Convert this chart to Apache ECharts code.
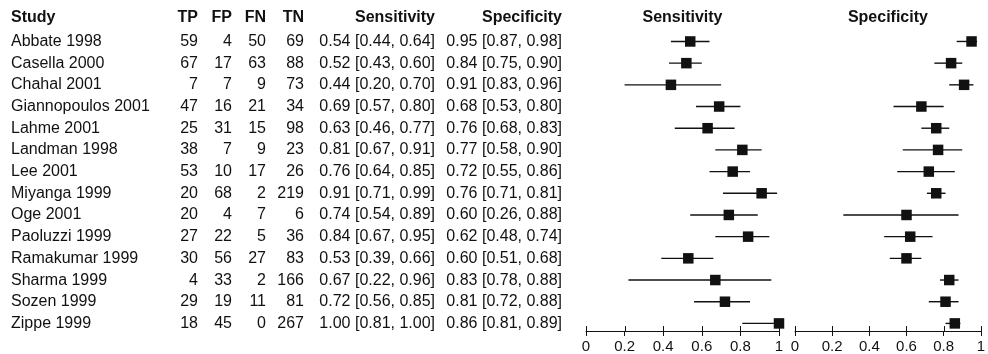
<!DOCTYPE html>
<html>
<head>
<meta charset="utf-8">
<script src="https://cdn.jsdelivr.net/npm/echarts@6/dist/echarts.min.js"></script>
<style>
  html, body { margin: 0; padding: 0; background: #fff; }
  #main { width: 988px; height: 354px; }
</style>
</head>
<body>
<div id="main"></div>
<script>
// study data
var studies = ['Abbate 1998', 'Casella 2000', 'Chahal 2001', 'Giannopoulos 2001', 'Lahme 2001',
    'Landman 1998', 'Lee 2001', 'Miyanga 1999', 'Oge 2001', 'Paoluzzi 1999',
    'Ramakumar 1999', 'Sharma 1999', 'Sozen 1999', 'Zippe 1999'];
var tp = [59, 67, 7, 47, 25, 38, 53, 20, 20, 27, 30, 4, 29, 18];
var fp = [4, 17, 7, 16, 31, 7, 10, 68, 4, 22, 56, 33, 19, 45];
var fn = [50, 63, 9, 21, 15, 9, 17, 2, 7, 5, 27, 2, 11, 0];
var tn = [69, 88, 73, 34, 98, 23, 26, 219, 6, 36, 83, 166, 81, 267];
var sens   = [0.54, 0.52, 0.44, 0.69, 0.63, 0.81, 0.76, 0.91, 0.74, 0.84, 0.53, 0.67, 0.72, 1.00];
var sensLo = [0.44, 0.43, 0.20, 0.57, 0.46, 0.67, 0.64, 0.71, 0.54, 0.67, 0.39, 0.22, 0.56, 0.81];
var sensHi = [0.64, 0.60, 0.70, 0.80, 0.77, 0.91, 0.85, 0.99, 0.89, 0.95, 0.66, 0.96, 0.85, 1.00];
var spec   = [0.95, 0.84, 0.91, 0.68, 0.76, 0.77, 0.72, 0.76, 0.60, 0.62, 0.60, 0.83, 0.81, 0.86];
var specLo = [0.87, 0.75, 0.83, 0.53, 0.68, 0.58, 0.55, 0.71, 0.26, 0.48, 0.51, 0.78, 0.72, 0.81];
var specHi = [0.98, 0.90, 0.96, 0.80, 0.83, 0.90, 0.86, 0.81, 0.88, 0.74, 0.68, 0.88, 0.88, 0.89];
var tickLabels = ['0', '0.2', '0.4', '0.6', '0.8', '1'];

var FONT = '"Liberation Sans", Arial, sans-serif';
var HEAD_ROW = -1.1;
var AXIS_ROW = 13.35;

function ci(v, lo, hi) {
    return v.toFixed(2) + ' [' + lo.toFixed(2) + ', ' + hi.toFixed(2) + ']';
}

// table columns: [x anchor, align, header, values]
var columns = [
    [11, 'left', 'Study', studies],
    [198, 'right', 'TP', tp],
    [232, 'right', 'FP', fp],
    [266, 'right', 'FN', fn],
    [304, 'right', 'TN', tn],
    [435, 'right', 'Sensitivity', sens.map(function (v, i) { return ci(v, sensLo[i], sensHi[i]); })],
    [562, 'right', 'Specificity', spec.map(function (v, i) { return ci(v, specLo[i], specHi[i]); })]
];

var tableData = [];
columns.forEach(function (c) {
    tableData.push([c[0], HEAD_ROW, c[2], c[1], 1]);
    c[3].forEach(function (v, i) {
        tableData.push([c[0], i, String(v), c[1], 0]);
    });
});

function forestData(v, lo, hi) {
    return v.map(function (x, i) { return [x, lo[i], hi[i], i]; });
}

function renderText(params, api) {
    var p = api.coord([api.value(0), api.value(1)]);
    var d = tableData[params.dataIndex];
    return {
        type: 'text',
        x: p[0], y: p[1],
        style: {
            text: d[2],
            textAlign: d[3],
            textVerticalAlign: 'middle',
            font: (d[4] ? 'bold ' : '') + '16px ' + FONT,
            fill: '#111'
        }
    };
}

function renderForest(params, api) {
    var c = api.coord([api.value(0), api.value(3)]);
    var a = api.coord([api.value(1), api.value(3)]);
    var b = api.coord([api.value(2), api.value(3)]);
    var s = 10.5;
    return {
        type: 'group',
        children: [
            { type: 'line', shape: { x1: a[0], y1: a[1], x2: b[0], y2: b[1] },
              style: { stroke: '#111', lineWidth: 1.4 } },
            { type: 'rect', shape: { x: c[0] - s / 2, y: c[1] - s / 2, width: s, height: s },
              style: { fill: '#111' } }
        ]
    };
}

// upper half of the ticks (the axis draws the lower half)
function renderUpTick(params, api) {
    var p = api.coord([api.value(0), AXIS_ROW]);
    var x = Math.round(p[0]) + 0.5;
    return {
        type: 'line', shape: { x1: x, y1: p[1], x2: x, y2: p[1] - 5 },
        style: { stroke: '#111', lineWidth: 1 }
    };
}

function plotTitle(text) {
    return function (params, api) {
        var p = api.coord([0.5, HEAD_ROW]);
        return {
            type: 'text', x: p[0], y: p[1],
            style: { text: text, textAlign: 'center', textVerticalAlign: 'middle',
                     font: 'bold 16px ' + FONT, fill: '#111' }
        };
    };
}

var gridTop = 17.6, gridBottom = 22.9;
var yBase = { type: 'value', min: HEAD_ROW, max: AXIS_ROW, inverse: true, show: false };

function xPlot(gridIndex) {
    return {
        type: 'value', gridIndex: gridIndex, min: 0, max: 1, interval: 0.2,
        position: 'bottom',
        splitLine: { show: false },
        axisLine: { show: true, onZero: false, lineStyle: { color: '#111', width: 1 } },
        axisTick: { show: true, length: 5, lineStyle: { color: '#111', width: 1 } },
        axisLabel: {
            show: true, margin: 8, fontSize: 15, fontFamily: FONT, color: '#111',
            formatter: function (v) { return tickLabels[Math.round(v / 0.2)]; }
        }
    };
}

var tickData = tickLabels.map(function (t) { return [parseFloat(t), AXIS_ROW]; });

var chart = echarts.init(document.getElementById('main'));
chart.setOption({
    animation: false,
    grid: [
        { left: 0, right: 0, top: gridTop, bottom: gridBottom },
        { left: 586, width: 193, top: gridTop, bottom: gridBottom },
        { left: 795, width: 191, top: gridTop, bottom: gridBottom }
    ],
    xAxis: [
        { type: 'value', gridIndex: 0, min: 0, max: 988, show: false },
        xPlot(1), xPlot(2)
    ],
    yAxis: [
        Object.assign({ gridIndex: 0 }, yBase),
        Object.assign({ gridIndex: 1 }, yBase),
        Object.assign({ gridIndex: 2 }, yBase)
    ],
    series: [
        { type: 'custom', xAxisIndex: 0, yAxisIndex: 0, renderItem: renderText,
          data: tableData.map(function (d) { return [d[0], d[1]]; }) },
        { type: 'custom', xAxisIndex: 1, yAxisIndex: 1, renderItem: renderUpTick, data: tickData, clip: false },
        { type: 'custom', xAxisIndex: 2, yAxisIndex: 2, renderItem: renderUpTick, data: tickData, clip: false },
        { type: 'custom', xAxisIndex: 1, yAxisIndex: 1, renderItem: renderForest,
          data: forestData(sens, sensLo, sensHi), clip: false },
        { type: 'custom', xAxisIndex: 2, yAxisIndex: 2, renderItem: renderForest,
          data: forestData(spec, specLo, specHi), clip: false },
        { type: 'custom', xAxisIndex: 1, yAxisIndex: 1, renderItem: plotTitle('Sensitivity'), data: [[0.5, HEAD_ROW]] },
        { type: 'custom', xAxisIndex: 2, yAxisIndex: 2, renderItem: plotTitle('Specificity'), data: [[0.5, HEAD_ROW]] }
    ]
});
</script>
</body>
</html>
